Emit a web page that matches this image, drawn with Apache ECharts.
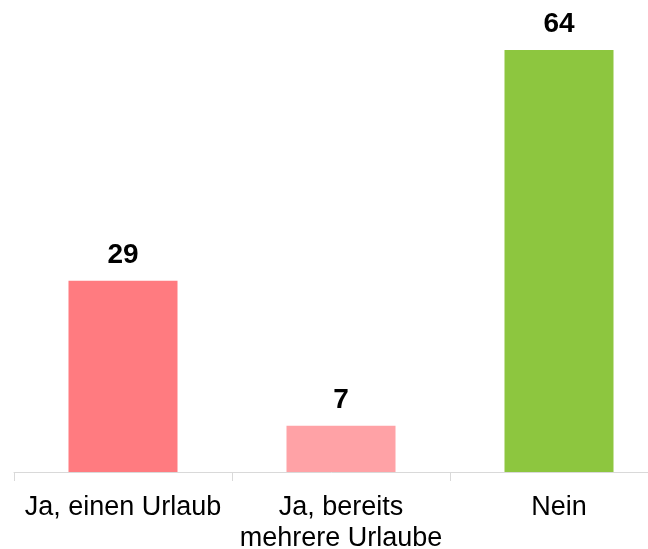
<!DOCTYPE html>
<html>
<head>
<meta charset="utf-8">
<script src="https://cdn.jsdelivr.net/npm/echarts@6/dist/echarts.min.js"></script>
<style>
html, body { margin:0; padding:0; background:#fff; }
#chart { width:648px; height:549px; }
</style>
</head>
<body>
<div id="chart"></div>
<script>
var categories = ['Ja, einen Urlaub', 'Ja, bereits\nmehrere Urlaube', 'Nein'];
var values = [29, 7, 64];
var barColors = ['#FF7B80', '#FFA2A6', '#8DC63F'];

var seriesData = values.map(function(v, i){
	return { value: v, itemStyle: { color: barColors[i] } };
});

var option = {
	animation: false,
	grid: { left: 14, width: 654, top: 50, bottom: 77, containLabel: false, outerBoundsMode: 'none' },
	xAxis: {
		type: 'category',
		data: categories,
		axisLine: { lineStyle: { color: '#D9D9D9', width: 1 } },
		axisTick: { show: true, length: 9, lineStyle: { color: '#D9D9D9' } },
		axisLabel: {
			color: '#000',
			fontFamily: 'Liberation Sans, Arial, sans-serif',
			fontSize: 27,
			lineHeight: 31,
			margin: 20,
			interval: 0
		}
	},
	yAxis: {
		type: 'value',
		min: 0,
		max: 64,
		show: false,
		splitLine: { show: false }
	},
	series: [{
		type: 'bar',
		data: seriesData,
		barWidth: '50%',
		label: {
			show: true,
			position: 'top',
			distance: 12,
			color: '#000',
			fontWeight: 'bold',
			fontSize: 28,
			fontFamily: 'Liberation Sans, Arial, sans-serif'
		}
	}]
};

var myChart = echarts.init(document.getElementById('chart'));
myChart.setOption(option);
</script>
</body>
</html>
